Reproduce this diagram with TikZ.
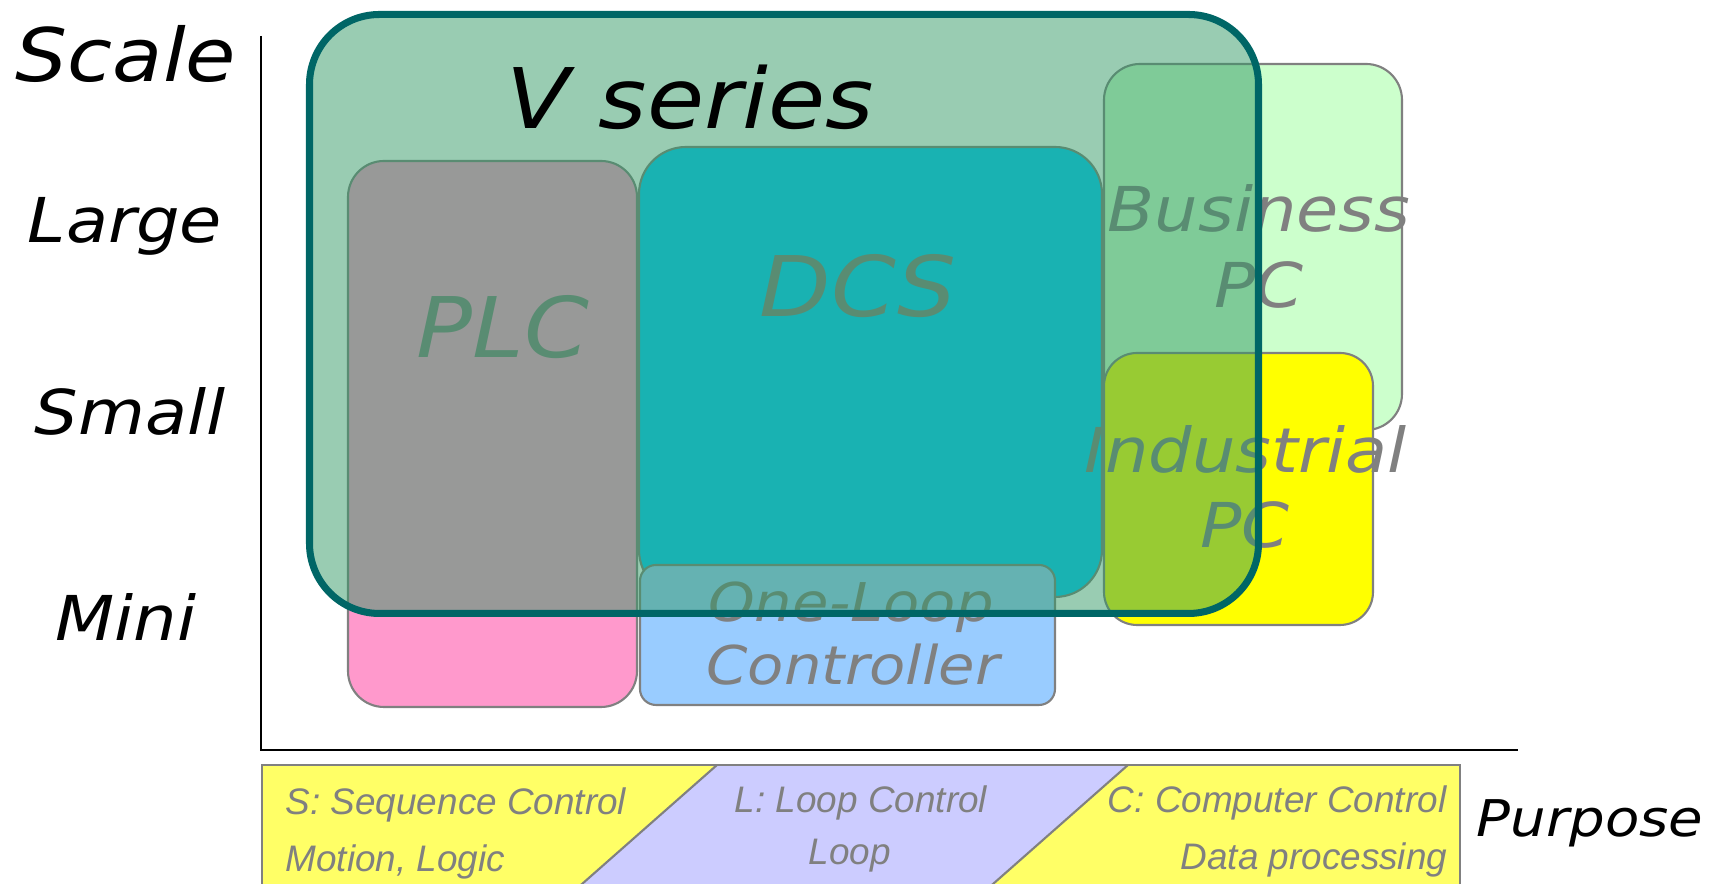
\documentclass[tikz,border=0pt]{standalone}
\usepackage{fontspec}
\usepackage{xcolor}
\usepackage{tikz}
\usetikzlibrary{positioning}

\newfontfamily\lblfont[FakeStretch=1.11]{DejaVu Sans Oblique}
\newfontfamily\keyfont{Liberation Sans Italic}

\definecolor{lblgray}{RGB}{128,128,128}
\definecolor{vfill}{RGB}{51,153,102}
\definecolor{vline}{RGB}{0,102,102}
\definecolor{plcpink}{RGB}{255,153,204}
\definecolor{dcsblue}{RGB}{0,204,255}
\definecolor{loopblue}{RGB}{153,204,255}
\definecolor{busgreen}{RGB}{204,255,204}
\definecolor{indyellow}{RGB}{255,255,0}
\definecolor{keyyellow}{RGB}{255,255,102}
\definecolor{keylav}{RGB}{204,204,255}

\begin{document}
\begin{tikzpicture}[
    area/.style={draw=lblgray, line width=0.6pt},
    keyline/.style={draw=lblgray, line width=0.6pt},
    axis/.style={draw=black, line width=0.7pt},
    axislabel/.style={font=\lblfont\fontsize{17.6}{21}\selectfont, text=black, anchor=base, inner sep=0pt},
    biglabel/.style={font=\lblfont\fontsize{23.8}{28}\selectfont, text=lblgray, anchor=base, inner sep=0pt},
    pclabel/.style={font=\lblfont\fontsize{17.6}{21}\selectfont, text=lblgray, anchor=base, inner sep=0pt},
    looplabel/.style={font=\lblfont\fontsize{15.2}{18}\selectfont, text=lblgray, anchor=base, inner sep=0pt},
    keytext/.style={font=\keyfont\fontsize{10.5}{12}\selectfont, text=lblgray, inner sep=0pt}
]
\useasboundingbox (0,0) rectangle (17.25,8.84);

% Axes
\draw[axis] (2.61,8.48) -- (2.61,1.34) -- (15.18,1.34);
\node[axislabel, font=\lblfont\fontsize{21}{25}\selectfont] (scale) at (1.26,8.02) {Scale};
\node[axislabel] (large) at (1.25,6.41) {Large};
\node[axislabel] (small) at (1.30,4.49) {Small};
\node[axislabel] (mini) at (1.26,2.43) {Mini};
\node[axislabel, font=\lblfont\fontsize{14.4}{17}\selectfont] (purpose) at (15.90,0.47) {Purpose};

% Areas
\draw[area, fill=busgreen, rounded corners=3.6mm] (11.04,8.20) rectangle (14.02,4.54);
\draw[area, fill=indyellow, rounded corners=3.3mm] (11.04,5.31) rectangle (13.73,2.59);
\draw[area, fill=plcpink, rounded corners=3.6mm] (3.48,7.23) rectangle (6.37,1.77);
\draw[area, fill=dcsblue, rounded corners=4.7mm] (6.39,7.37) rectangle (11.02,2.87);
\draw[area, fill=loopblue, rounded corners=1.6mm] (6.40,3.19) rectangle (10.55,1.79);

\node[biglabel] (plc) at (5.03,5.26) {PLC};
\node[biglabel] (dcs) at (8.58,5.67) {DCS};
\node[pclabel] (business) at (12.59,6.52) {Business};
\node[pclabel] (businesspc) at (12.59,5.76) {PC};
\node[pclabel] (industrial) at (12.46,4.11) {Industrial};
\node[pclabel] (industrialpc) at (12.45,3.36) {PC};
\node[looplabel] (oneloop) at (8.51,2.62) {One-Loop};
\node[looplabel] (controller) at (8.53,1.99) {Controller};

% V series
\draw[draw=vline, line width=2pt, fill=vfill, fill opacity=0.5, rounded corners=7mm]
    (3.095,8.695) rectangle (12.585,2.705);
\node[biglabel, text=black] (vseries) at (6.90,7.55) {V series};

% Purpose key
\fill[keyyellow] (2.62,1.19) rectangle (14.60,-0.3);
\fill[keylav] (7.17,1.19) -- (11.28,1.19) -- (9.59,-0.3) -- (5.48,-0.3) -- cycle;
\draw[keyline] (7.17,1.19) -- (5.48,-0.3);
\draw[keyline] (11.28,1.19) -- (9.59,-0.3);
\draw[keyline] (2.62,1.19) rectangle (14.60,-0.3);

\node[keytext, anchor=base west] (seq) at (2.85,0.69) {S: Sequence Control};
\node[keytext, anchor=base west] (motion) at (2.85,0.12) {Motion, Logic};
\node[keytext, anchor=base] (loopctl) at (8.61,0.71) {L: Loop Control};
\node[keytext, anchor=base] (loop) at (8.50,0.19) {Loop};
\node[keytext, anchor=base east] (comp) at (14.47,0.71) {C: Computer Control};
\node[keytext, anchor=base east] (data) at (14.48,0.14) {Data processing};

\end{tikzpicture}
\end{document}
